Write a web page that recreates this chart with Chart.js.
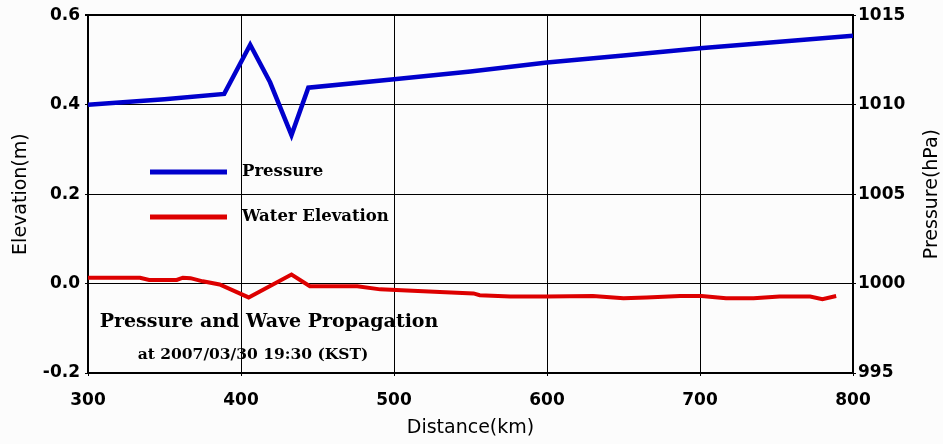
<!DOCTYPE html>
<html>
<head>
<meta charset="utf-8">
<script src="https://cdn.jsdelivr.net/npm/chart.js@4/dist/chart.umd.min.js"></script>
<style>
  html, body { margin: 0; padding: 0; background: #fcfcfc; }
  #wrap { width: 943px; height: 444px; }
</style>
</head>
<body>
<div id="wrap"><canvas id="chart" width="943" height="444"></canvas></div>
<script>
// ---- data ----
const pressureKm = [300, 350, 389, 406, 419, 433, 444, 500, 550, 600, 650, 700, 750, 800];
const pressureHpa = [1010.0, 1010.3, 1010.6, 1013.35, 1011.25, 1008.3, 1010.95, 1011.42, 1011.85, 1012.35, 1012.75, 1013.15, 1013.5, 1013.85];

const waterKm = [300, 334, 340, 358, 362, 367, 375, 386, 405, 433, 445, 476, 491, 512, 530, 552, 556, 576, 600, 630, 650, 665, 687, 701, 717, 735, 752, 772, 780, 789];
const waterElev = [0.013, 0.013, 0.008, 0.008, 0.013, 0.012, 0.005, -0.002, -0.031, 0.020, -0.006, -0.006, -0.013, -0.016, -0.019, -0.022, -0.026, -0.029, -0.029, -0.028, -0.033, -0.031, -0.028, -0.028, -0.033, -0.033, -0.029, -0.029, -0.035, -0.028];

const xTicks = [300, 400, 500, 600, 700, 800];
const elevTicks = [-0.2, 0.0, 0.2, 0.4, 0.6];
const pressTicks = [995, 1000, 1005, 1010, 1015];

const seriesNames = ["Pressure", "Water Elevation"];
const chartTitle = "Pressure and Wave Propagation";
const chartSubtitle = "at 2007/03/30 19:30 (KST)";

const BLUE = "#0000cc";
const RED = "#dd0000";
const tickFont = { family: "DejaVu Sans", size: 17, weight: "bold" };

function xy(xs, ys) {
  return xs.map((x, i) => ({ x: x, y: ys[i] }));
}

// texts, legend and axis titles
const decorations = {
  id: "decorations",
  afterDraw(chart) {
    const ctx = chart.ctx;
    const a = chart.chartArea;
    ctx.save();
    ctx.fillStyle = "#000";
    ctx.textBaseline = "middle";

    // legend
    const leg = [[BLUE, 172], [RED, 217]];
    leg.forEach((l, i) => {
      ctx.strokeStyle = l[0];
      ctx.lineWidth = 5;
      ctx.beginPath();
      ctx.moveTo(150, l[1]);
      ctx.lineTo(227, l[1]);
      ctx.stroke();
      ctx.font = "bold 16.5px 'DejaVu Serif'";
      ctx.textAlign = "left";
      ctx.fillText(seriesNames[i], 242, l[1]);
    });

    // title block
    ctx.textAlign = "center";
    ctx.font = "bold 19px 'DejaVu Serif'";
    ctx.fillText(chartTitle, 269, 322);
    ctx.font = "bold 15.5px 'DejaVu Serif'";
    ctx.fillText(chartSubtitle, 253, 355);

    // axis titles
    ctx.font = "19px 'DejaVu Sans'";
    ctx.fillText("Distance(km)", (a.left + a.right) / 2, 428);
    ctx.translate(21, (a.top + a.bottom) / 2);
    ctx.rotate(-Math.PI / 2);
    ctx.fillText("Elevation(m)", 0, 0);
    ctx.restore();

    ctx.save();
    ctx.fillStyle = "#000";
    ctx.textBaseline = "middle";
    ctx.textAlign = "center";
    ctx.font = "19px 'DejaVu Sans'";
    ctx.translate(932, (a.top + a.bottom) / 2);
    ctx.rotate(-Math.PI / 2);
    ctx.fillText("Pressure(hPa)", 0, 0);
    ctx.restore();
  }
};

new Chart(document.getElementById("chart"), {
  type: "line",
  data: {
    datasets: [
      {
        label: seriesNames[0],
        data: xy(pressureKm, pressureHpa),
        yAxisID: "y2",
        borderColor: BLUE,
        borderWidth: 4.5,
        pointRadius: 0,
        tension: 0,
      },
      {
        label: seriesNames[1],
        data: xy(waterKm, waterElev),
        yAxisID: "y",
        borderColor: RED,
        borderWidth: 4,
        pointRadius: 0,
        tension: 0,
      },
    ],
  },
  options: {
    responsive: false,
    animation: false,
    layout: { padding: { top: 15, left: 0, right: 0, bottom: 0 } },
    plugins: {
      legend: { display: false },
      tooltip: { enabled: false },
    },
    scales: {
      x: {
        type: "linear",
        min: 300,
        max: 800,
        afterBuildTicks: (s) => { s.ticks = xTicks.map((v) => ({ value: v })); },
        afterFit: (s) => { s.height = 71; },
        border: { display: true, color: "#000", width: 2 },
        grid: { color: "#000", lineWidth: 1, tickLength: 3 },
        ticks: { color: "#000", font: tickFont, padding: 14, maxRotation: 0 },
      },
      y: {
        position: "left",
        min: -0.2,
        max: 0.6,
        afterBuildTicks: (s) => { s.ticks = elevTicks.map((v) => ({ value: v })); },
        afterFit: (s) => { s.width = 88; },
        border: { display: true, color: "#000", width: 2 },
        grid: {
          color: "#000",
          lineWidth: (c) => (c.tick && c.tick.value === 0.6 ? 2 : 1),
          tickLength: 3,
        },
        ticks: {
          color: "#000",
          font: tickFont,
          padding: 5,
          callback: (v) => v.toFixed(1),
        },
      },
      y2: {
        position: "right",
        min: 995,
        max: 1015,
        afterBuildTicks: (s) => { s.ticks = pressTicks.map((v) => ({ value: v })); },
        afterFit: (s) => { s.width = 90; },
        border: { display: true, color: "#000", width: 2 },
        grid: { drawOnChartArea: false, color: "#000", tickLength: 3 },
        ticks: { color: "#000", font: tickFont, padding: 2, callback: (v) => String(v) },
      },
    },
  },
  plugins: [decorations],
});
</script>
</body>
</html>
